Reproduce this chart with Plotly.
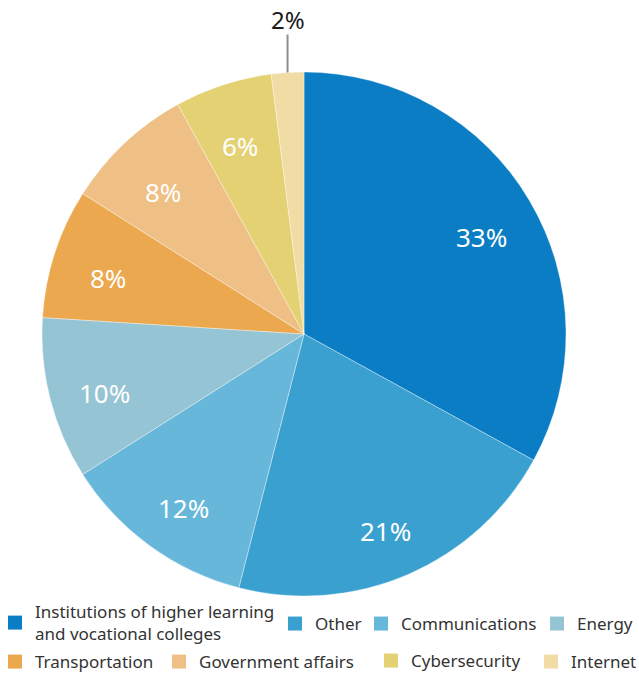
import math
import plotly.graph_objects as go

labels = [
    "Institutions of higher learning<br>and vocational colleges",
    "Other",
    "Communications",
    "Energy",
    "Transportation",
    "Government affairs",
    "Cybersecurity",
    "Internet",
]
values = [33, 21, 12, 10, 8, 8, 6, 2]
colors = ["#0A7DC5", "#39A0D0", "#66B7DA", "#95C4D4",
          "#EBA84F", "#EFC085", "#E4D173", "#F0DCA4"]

W, H = 639, 676
FONT = "Noto Sans"

# pie placement (paper fractions)
dom_x = [42 / W, 566 / W]
dom_y = [1 - 596 / H, 1 - 72 / H]

fig = go.Figure()
fig.add_trace(go.Pie(
    labels=labels,
    values=values,
    textinfo="none",
    marker=dict(colors=colors, line=dict(color="rgba(255,255,255,0.6)", width=0.6)),
    sort=False,
    direction="clockwise",
    rotation=0,
    domain=dict(x=dom_x, y=dom_y),
    hoverinfo="label+percent",
    showlegend=False,
))

# percentage labels: inside for larger slices, callout with leader line for tiny ones
cx = (dom_x[0] + dom_x[1]) / 2 * W
cy = (1 - (dom_y[0] + dom_y[1]) / 2) * H
r = (dom_x[1] - dom_x[0]) * W / 2
total = sum(values)
cum = 0
for v in values:
    mid = (cum + v / 2) / total * 2 * math.pi
    cum += v
    if v >= 4:
        d = 0.785 * r
        px = cx + d * math.sin(mid)
        py = cy - d * math.cos(mid)
        fig.add_annotation(xref="paper", yref="paper", x=px / W, y=1 - py / H,
                           text=f"{v}%", showarrow=False,
                           xanchor="center", yanchor="middle", yshift=-8,
                           font=dict(family=FONT, size=26, color="white"))
    else:
        px = cx + r * math.sin(mid)
        py = cy - r * math.cos(mid)
        fig.add_shape(type="line", xref="paper", yref="paper",
                      x0=px / W, x1=px / W, y0=1 - py / H, y1=1 - (py - 38) / H,
                      line=dict(color="#8f8f8f", width=2))
        fig.add_annotation(xref="paper", yref="paper", x=px / W, y=1 - (py - 53) / H,
                           text=f"{v}%", showarrow=False,
                           xanchor="center", yanchor="middle",
                           font=dict(family=FONT, size=24, color="#1a1a1a"))

# legend entries: one small legend per category so the two rows flow freely
legend_ids = ["legend"] + [f"legend{i + 1}" for i in range(1, len(labels))]
for lab, col, lid in zip(labels, colors, legend_ids):
    fig.add_trace(go.Scatter(
        x=[None], y=[None], mode="markers", name=lab, legend=lid,
        marker=dict(symbol="square", size=14, color=col, line=dict(width=0)),
        hoverinfo="skip",
    ))

legend_left_px = [-5, 275, 361, 537, -5, 159, 371, 531]
legend_mid_px = [623, 624, 624, 624, 662, 662, 661, 662]
legend_layout = {}
for lid, lx, ly in zip(legend_ids, legend_left_px, legend_mid_px):
    legend_layout[lid] = dict(
        x=lx / W, y=1 - ly / H, xanchor="left", yanchor="middle",
        orientation="h", bgcolor="rgba(0,0,0,0)",
        font=dict(family=FONT, size=17, color="#333333"),
    )

fig.update_layout(
    width=W, height=H,
    margin=dict(l=0, r=0, t=0, b=0, autoexpand=False),
    paper_bgcolor="white",
    plot_bgcolor="white",
    xaxis=dict(visible=False),
    yaxis=dict(visible=False),
    **legend_layout,
)

fig.write_html("out.html")
